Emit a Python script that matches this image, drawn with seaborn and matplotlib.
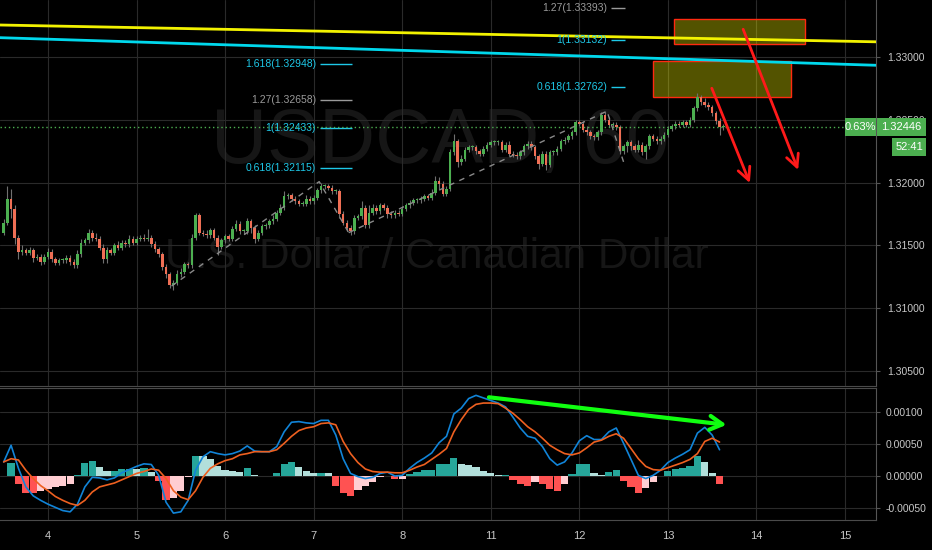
import numpy as np
import matplotlib
matplotlib.use('Agg')
import matplotlib.pyplot as plt
import seaborn as sns
from matplotlib.patches import Rectangle

# hourly closes in pips above 1.30000
closes_a = [168, 187, 179, 156, 145, 146, 144, 146, 140, 141,
            137, 141, 145, 139, 136, 138, 138, 140, 137, 134,
            143, 152, 154, 160, 156, 155, 148, 139, 146, 144,
            150, 148, 152, 151, 155, 152, 155, 156, 155, 156,
            151, 147, 143, 133, 127, 118, 120, 127, 129, 135,
            134, 156, 174, 160, 159, 158, 162, 156, 149, 154,
            157, 155]
closes_b = [163, 167, 161, 161, 169, 164, 155, 160, 165, 166,
            169, 171, 176, 180, 189, 190, 187, 185, 183, 183,
            187, 185, 188, 194, 197, 197, 196, 193, 193, 175,
            168, 164, 161, 172, 173, 180, 166, 176, 180, 177,
            182, 180, 175, 174, 176, 175, 179, 182, 184, 186,
            186, 187, 189, 188, 192, 201, 199, 191, 195, 224,
            233, 216, 219, 226]
closes_c = [228, 228, 225, 223, 227, 230, 232, 232, 232, 226,
            230, 223, 222, 221, 224, 229, 231, 228, 221, 215,
            223, 214, 224, 224, 227, 233, 234, 237, 240, 248,
            247, 242, 240, 237, 236, 240, 254, 250, 246, 246,
            244, 225, 229, 232, 229, 226, 230, 224, 229, 237,
            235, 233, 235, 238, 243, 245, 247, 246, 248, 246,
            250, 259, 268, 264, 262, 260, 255, 249, 244, 244.6]
first_open = 160

# wick lengths beyond the body, in pips
hi_wick = [3, 10, 8, 3, 2, 4, 2, 3, 2, 2, 2, 2, 3, 2, 2, 2, 2, 2, 2, 2,
           3, 3, 2, 3, 2, 4, 2, 3, 3, 2, 2, 3, 2, 2, 3, 2, 2, 2, 3, 7,
           2, 2, 2, 2, 2, 2, 2, 3, 3, 2, 2, 3, 2, 2, 2, 3, 2, 2, 2, 2,
           2, 2,
           2, 3, 2, 2, 3, 2, 2, 2, 2, 2, 2, 3, 2, 3, 4, 2, 2, 2, 2, 2,
           3, 2, 2, 2, 3, 2, 2, 2, 2, 2, 2, 2, 2, 2, 2, 5, 2, 6, 3, 2,
           2, 2, 2, 2, 2, 2, 2, 2, 2, 2, 2, 2, 2, 2, 3, 4, 3, 2, 2, 3,
           6, 2, 3, 2,
           2, 2, 2, 2, 2, 2, 2, 2, 2, 2, 2, 3, 2, 2, 2, 2, 2, 2, 2, 2,
           2, 2, 2, 2, 2, 2, 2, 2, 2, 2, 2, 2, 3, 2, 2, 2, 2, 3, 2, 2,
           2, 2, 2, 2, 2, 2, 4, 2, 2, 2, 2, 2, 2, 2, 2, 2, 2, 2, 2, 2,
           2, 2, 3, 2, 3, 2, 2, 2, 2, 2]
lo_wick = [2, 2, 7, 5, 6, 3, 2, 2, 3, 2, 3, 2, 2, 2, 2, 2, 2, 2, 3, 2,
           2, 2, 2, 2, 3, 2, 2, 3, 3, 2, 2, 2, 2, 2, 2, 2, 2, 2, 2, 2,
           2, 2, 2, 3, 3, 2, 4, 2, 2, 2, 2, 2, 2, 2, 2, 2, 2, 2, 7, 2,
           2, 2,
           2, 2, 2, 2, 2, 4, 3, 2, 2, 2, 2, 2, 2, 2, 2, 2, 2, 2, 2, 2,
           2, 2, 2, 2, 2, 2, 2, 2, 2, 3, 2, 3, 3, 2, 2, 2, 2, 2, 2, 2,
           2, 2, 3, 2, 2, 2, 2, 2, 2, 2, 2, 2, 2, 2, 2, 2, 4, 2, 2, 2,
           2, 4, 2, 2,
           2, 2, 2, 2, 2, 2, 2, 2, 2, 2, 2, 2, 2, 2, 2, 2, 2, 2, 2, 4,
           2, 4, 2, 2, 2, 2, 2, 2, 2, 2, 2, 2, 2, 2, 2, 2, 2, 2, 2, 2,
           2, 2, 2, 5, 3, 2, 2, 2, 5, 2, 2, 2, 2, 2, 2, 2, 2, 2, 2, 2,
           2, 2, 2, 2, 2, 2, 2, 2, 6, 2]

# MACD (12,26,9) read every second bar, units of 0.00001
macd_line = [22, 48, 12, -17, -31, -38, -44, -49, -54, -56,
             -44, -17, -2, -3, -6, -3, 5, 10, 15, 19,
             18, 1, -41, -58, -56, -38, 9, 30, 38, 35,
             33, 35, 39, 47, 39, 38, 38, 46, 69, 84,
             85, 83, 82, 87, 87, 64, 27, 4, -1, -4,
             -2, 4, 6, 0, 1, 12, 21, 28, 36, 52,
             62, 97, 106, 121, 126, 122, 118, 114, 108, 92,
             75, 62, 59, 46, 27, 17, 22, 36, 55, 63,
             57, 57, 69, 75, 51, 26, 1, -4, 1, 9,
             21, 28, 34, 41, 67, 76, 64, 41]
signal_line = [22, 27, 25, 9, -4, -15, -23, -32, -38, -43,
               -46, -38, -25, -17, -14, -11, -6, -1, 4, 7,
               11, 9, -4, -23, -33, -37, -23, -2, 12, 19,
               24, 27, 33, 35, 38, 38, 38, 41, 51, 62,
               71, 75, 77, 82, 83, 80, 54, 35, 21, 11,
               7, 6, 6, 5, 5, 9, 14, 18, 26, 34,
               43, 69, 88, 104, 112, 114, 114, 113, 106, 98,
               88, 77, 69, 59, 48, 41, 35, 33, 36, 44,
               53, 56, 62, 66, 59, 43, 27, 15, 10, 9,
               13, 17, 21, 26, 35, 54, 59, 53]

day_labels = ['4', '5', '6', '7', '8', '11', '12', '13', '14', '15']
day_start_bar = [12, 36, 60, 84, 108, 132, 156, 180, 204, 228]

# drawings on the chart
fib1_ratio = ['1.618', '1.27', '1', '0.618']
fib1_price = [1.32948, 1.32658, 1.32433, 1.32115]
fib2_ratio = ['1.27', '1', '0.618']
fib2_price = [1.33393, 1.33132, 1.32762]
fib1_path_x = [45.5, 85.5, 93.5]
fib1_path_p = [1.31175, 1.32007, 1.31600]
fib2_path_x = [93.5, 163.5, 168.0]
fib2_path_p = [1.31600, 1.32569, 1.32163]
yellow_x, yellow_p = [-1.0, 236.5], [1.33255, 1.33121]
cyan_x, cyan_p = [-1.0, 236.5], [1.33154, 1.32934]
zone_x = [[181.6, 217.1], [175.9, 213.3]]
zone_p = [[1.33101, 1.33303], [1.32684, 1.32968]]
red_arrows = [((191.9, 1.32751), (202.2, 1.31996)),
              ((200.4, 1.33221), (215.3, 1.32100))]
div_arrow = ((131.5, 0.00123), (195.9, 0.00080))
last_price = 1.32446
change_text = '0.63%'
countdown_text = '52:41'

GREEN, RED, WICK = '#4caf50', '#ef6f55', '#707070'
CYAN_TXT, GRID, TXT = '#1ec8e8', '#2a2a2a', '#c8c8c8'

sns.set_style('dark', rc={'axes.facecolor': 'black', 'figure.facecolor': 'black',
                          'axes.grid': True, 'grid.color': GRID})
plt.rcParams['font.family'] = ['Liberation Sans', 'DejaVu Sans']

closes = 1.3 + np.array(closes_a + closes_b + closes_c) / 10000
n = len(closes)
x = np.arange(n)
opens = np.r_[1.3 + first_open / 10000, closes[:-1]]
body_lo = np.minimum(opens, closes)
body_hi = np.maximum(opens, closes)
highs = body_hi + np.array(hi_wick[:n]) / 10000
lows = body_lo - np.array(lo_wick[:n]) / 10000
up = closes >= opens

W, H = 932, 550
fig = plt.figure(figsize=(W / 100, H / 100), dpi=100)
ax = fig.add_axes([0, 164 / H, 876 / W, 386 / H])
ax2 = fig.add_axes([0, 30 / H, 876 / W, 132 / H], sharex=ax)

# watermark
ax.text(0.502, 0.63, 'USDCAD, 60', transform=ax.transAxes, ha='center', va='center',
        fontsize=56, color='#161616', zorder=0)
ax.text(0.499, 0.335, 'U.S. Dollar / Canadian Dollar', transform=ax.transAxes,
        ha='center', va='center', fontsize=30.5, color='#161616', zorder=0)

# candles
ax.vlines(x, lows, highs, color=WICK, lw=0.8, zorder=3)
ax.bar(x, np.maximum(body_hi - body_lo, 0.00008), bottom=body_lo, width=0.7,
       color=np.where(up, GREEN, RED), linewidth=0, zorder=4)

# trend lines and zones
for (x0, x1), (p0, p1) in zip(zone_x, zone_p):
    ax.add_patch(Rectangle((x0, p0), x1 - x0, p1 - p0, facecolor=(1, 1, 0, 0.33),
                           edgecolor='#ff2a10', lw=1.0, zorder=2))
ax.plot(yellow_x, yellow_p, color='#f2f200', lw=2.0, zorder=5)
ax.plot(cyan_x, cyan_p, color='#00d8ec', lw=2.0, zorder=5)

# fib extension paths and levels
for px, pp in ((fib1_path_x, fib1_path_p), (fib2_path_x, fib2_path_p)):
    ax.plot(px, pp, color='#8a8a8a', lw=1.0, ls=(0, (4, 4)), zorder=5)
for ratios, prices, (l0, l1), lab_x in ((fib1_ratio, fib1_price, (85.7, 94.4), 84.6),
                                        (fib2_ratio, fib2_price, (164.6, 168.4), 163.5)):
    for r, p in zip(ratios, prices):
        col = '#9a9a9a' if r == '1.27' else CYAN_TXT
        ax.hlines(p, l0, l1, color=col, lw=1.0, zorder=5)
        ax.text(lab_x, p, f'{r}({p:.5f})', ha='right', va='center', fontsize=7.5,
                color=col, zorder=5)

# red arrows
for start, end in red_arrows:
    ax.annotate('', xy=end, xytext=start, zorder=6,
                arrowprops=dict(arrowstyle='->,head_length=0.9,head_width=0.45',
                                color='#ff1a1a', lw=2.0, shrinkA=0, shrinkB=0))

# last price line
ax.axhline(last_price, color=GREEN, lw=1.0, ls=(0, (1, 2)), zorder=5)

ax.set_xlim(-1.0, 236.4)
ax.set_ylim(1.303785, 1.334542)
ax.set_yticks(np.arange(1.305, 1.3301, 0.005))
ax.yaxis.set_major_formatter(matplotlib.ticker.FormatStrFormatter('%.5f'))
ax.yaxis.tick_right()
ax.tick_params(axis='y', labelcolor=TXT, color='#555555', length=3, pad=5, labelsize=7.5)
ax.tick_params(axis='x', labelbottom=False, length=0)

# price tags on the right
y_last = H - ax.transData.transform((0, last_price))[1]
for x0, x1, dy, txt in ((845, 876, 0, change_text), (877, 926, 0, f'{last_price:.5f}'),
                        (892, 926, 20, countdown_text)):
    yc = y_last + dy
    fig.add_artist(Rectangle((x0 / W, 1 - (yc + 9) / H), (x1 - x0) / W, 18 / H,
                             transform=fig.transFigure, facecolor=GREEN,
                             edgecolor='none', zorder=10))
    fig.text((x0 + x1) / 2 / W, 1 - yc / H, txt, ha='center', va='center',
             fontsize=8, color='white', zorder=11)

# MACD pane
mx = np.arange(0, 2 * len(macd_line), 2)
macd = np.array(macd_line) / 1e5
sig = np.array(signal_line) / 1e5
hist = macd - sig
prev = np.r_[hist[0], hist[:-1]]
hcol = np.where(hist >= 0, np.where(hist >= prev, '#26a69a', '#b2dfdb'),
                np.where(hist < prev, '#ff5252', '#ffcdd2'))
ax2.bar(mx, hist, width=1.95, color=hcol, linewidth=0, zorder=2)
sns.lineplot(x=mx, y=macd, ax=ax2, color='#1184d8', lw=1.2, zorder=3)
sns.lineplot(x=mx, y=sig, ax=ax2, color='#ee6020', lw=1.2, zorder=3)
ax2.annotate('', xy=div_arrow[1], xytext=div_arrow[0], zorder=6,
             arrowprops=dict(arrowstyle='->,head_length=0.9,head_width=0.5',
                             color='#10ff10', lw=3.0, shrinkA=0, shrinkB=0))
ax2.set_ylim(-0.0006875, 0.001375)
ax2.set_yticks([-0.0005, 0, 0.0005, 0.001])
ax2.yaxis.set_major_formatter(matplotlib.ticker.FormatStrFormatter('%.5f'))
ax2.yaxis.tick_right()
ax2.tick_params(axis='y', labelcolor=TXT, color='#555555', length=3, pad=4, labelsize=7.5)
ax2.set_xticks(day_start_bar)
ax2.set_xticklabels(day_labels)
ax2.tick_params(axis='x', labelcolor=TXT, length=0, pad=8, labelsize=8)
ax2.set_xlabel('')
ax2.set_ylabel('')

for a in (ax, ax2):
    a.grid(True, color=GRID, lw=0.8)
    a.set_axisbelow(True)
    for s in a.spines.values():
        s.set_visible(False)
    a.spines['right'].set_visible(True)
    a.spines['right'].set_color('#555555')
ax.spines['bottom'].set_visible(True)
ax.spines['bottom'].set_color('#4a4a4a')
for s in ('top', 'bottom'):
    ax2.spines[s].set_visible(True)
    ax2.spines[s].set_color('#4a4a4a')

fig.savefig('out.png', dpi=100, facecolor='black')
